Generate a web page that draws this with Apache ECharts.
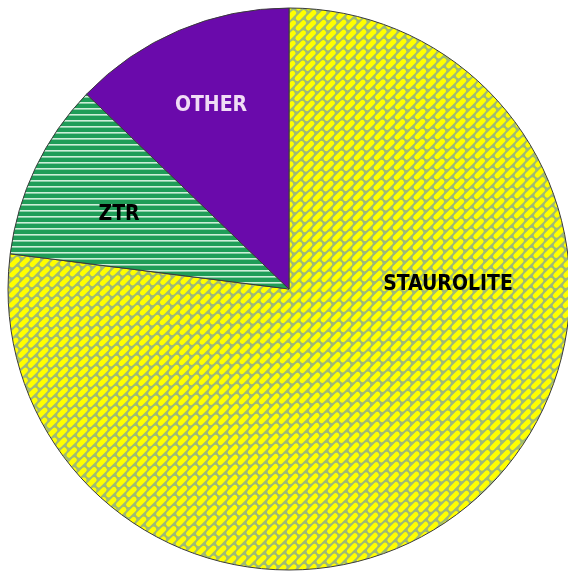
<!DOCTYPE html>
<html>
<head>
<meta charset="utf-8">
<script src="https://cdn.jsdelivr.net/npm/echarts@6/dist/echarts.min.js"></script>
<style>
html,body{margin:0;padding:0;background:#fff;}
#chart{width:568px;height:571px;}
</style>
</head>
<body>
<div id="chart"></div>
<script>
const categories = ['STAUROLITE', 'ZTR', 'OTHER'];
const values = [77.0, 10.2, 12.8];
const labelColors = ['#000000', '#000000', '#f0dcf5'];

function brickPattern() {
  const c = document.createElement('canvas');
  c.width = 600; c.height = 600;
  const ctx = c.getContext('2d');
  ctx.fillStyle = '#9fba74';
  ctx.fillRect(0, 0, 600, 600);
  ctx.translate(300, 300);
  ctx.rotate(-Math.PI / 4);
  const L = 12.5, W = 5, g = 2;
  ctx.fillStyle = '#ffff00';
  for (let j = -70; j <= 70; j++) {
    const y = j * (W + g);
    const off = (Math.abs(j) % 2) * (L + g) / 2;
    for (let i = -32; i <= 32; i++) {
      const x = i * (L + g) + off;
      ctx.beginPath();
      if (ctx.roundRect) ctx.roundRect(x, y, L, W, 2.3); else ctx.rect(x, y, L, W);
      ctx.fill();
    }
  }
  return c;
}

function stripePattern() {
  const c = document.createElement('canvas');
  c.width = 12; c.height = 6;
  const ctx = c.getContext('2d');
  ctx.fillStyle = '#1f9d58';
  ctx.fillRect(0, 0, 12, 6);
  ctx.fillStyle = '#cdeed8';
  ctx.fillRect(0, 0, 12, 1.6);
  return c;
}

const fills = [
  { image: brickPattern(), repeat: 'repeat' },
  { image: stripePattern(), repeat: 'repeat' },
  '#6a0aab'
];
const labelPos = [[448, 285], [119, 215], [211, 106]];

const chart = echarts.init(document.getElementById('chart'), null, { renderer: 'canvas' });
chart.setOption({
  animation: false,
  series: [{
    type: 'pie',
    center: [289, 289],
    radius: [0, 281],
    startAngle: 90,
    clockwise: true,
    avoidLabelOverlap: false,
    silent: true,
    data: categories.map((name, i) => ({
      name: name,
      value: values[i],
      itemStyle: { color: fills[i] },
      label: { color: labelColors[i] }
    })),
    itemStyle: { borderColor: '#3a3a3a', borderWidth: 1 },
    label: {
      show: true,
      position: 'inside',
      formatter: '{b}',
      fontFamily: '"DejaVu Sans Condensed", "Liberation Sans", Arial, sans-serif',
      fontWeight: 'bold',
      fontSize: 21,
      align: 'center',
      verticalAlign: 'middle'
    },
    labelLine: { show: false },
    labelLayout: function (p) {
      return { x: labelPos[p.dataIndex][0], y: labelPos[p.dataIndex][1], align: 'center', verticalAlign: 'middle' };
    }
  }]
});
</script>
</body>
</html>
